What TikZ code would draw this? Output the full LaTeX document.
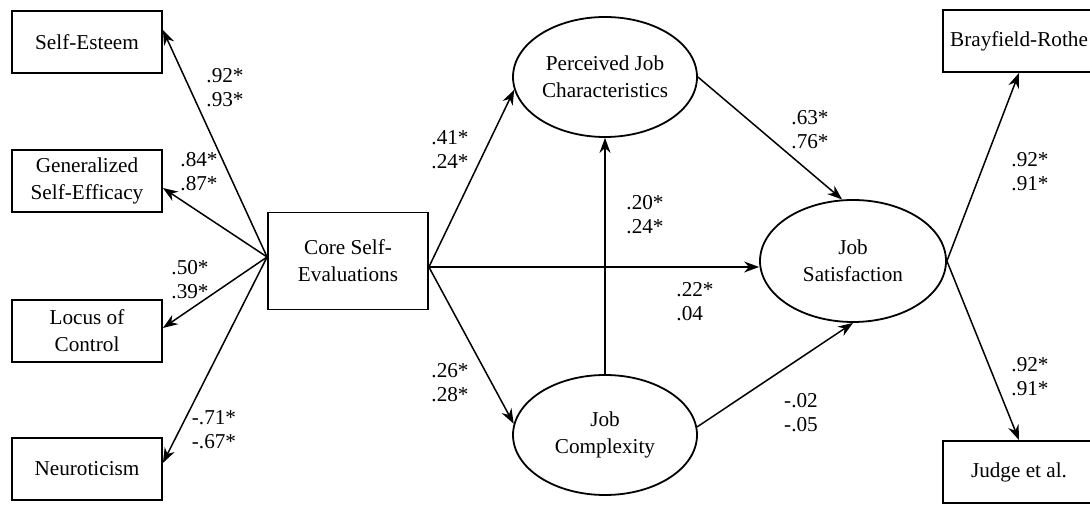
\documentclass[tikz,border=0pt]{standalone}
\usepackage{fontspec}
\setmainfont{Liberation Serif}
\usetikzlibrary{arrows.meta,shapes.geometric}
\tikzset{
  obs/.style={draw,line width=0.9pt,minimum width=75pt,minimum height=31pt,
    inner sep=0pt,align=center,font=\fontsize{10.6}{13.5}\selectfont},
  lat/.style={draw,ellipse,line width=0.9pt,minimum width=92pt,minimum height=60pt,
    inner sep=0pt,align=center,font=\fontsize{10.6}{13.5}\selectfont},
  path/.style={line width=0.75pt,-{Stealth[length=7.5pt,width=5.5pt]}},
  coef/.style={align=left,inner sep=0pt,font=\fontsize{10.6}{12}\selectfont}
}
\begin{document}
\begin{tikzpicture}[x=0.5pt,y=-0.5pt]
		\useasboundingbox (0,0) rectangle (1090,506);
		\clip (0,0) rectangle (1090,506);
		%%%%%%%%%%%%%%%%% vertices %%%%%%%%%%%%%%%%%%%
		% indicators of core self-evaluations, left column
		\foreach \name/\ypos/\txt in
		{se/42/Self-Esteem,gse/181/{Generalized\\Self-Efficacy},
			loc/331/{Locus of\\Control},neu/469/Neuroticism}
		{\node[obs] (\name) at (87,\ypos) {\txt};}
		
		\node[obs,minimum width=80pt,minimum height=48.5pt] (cse) at (348,261)
		{Core Self-\\Evaluations};
		
		\node[lat] (pjc) at (605,77) {Perceived Job\\Characteristics};
		\node[lat] (jc) at (605,435) {Job\\Complexity};
		\node[lat,minimum width=93pt,minimum height=61pt] (js) at (853,261)
		{Job\\Satisfaction};
		
		% indicators of job satisfaction, right column (cut by the page edge)
		\node[obs,minimum width=76pt] (bro) at (1019,41) {Brayfield-Rothe};
		\node[obs,minimum width=76pt] (jud) at (1019,472) {Judge et al.};
		
		%%%%%%%%%%%%%%%%% edges %%%%%%%%%%%%%%%%%%%%%%%
		\foreach \name/\dy in {se/6,gse/-3.5,loc/1.5,neu/3}
		{\draw[path] ([yshift=2pt]cse.west) -- ([yshift=\dy pt]\name.east);}
		
		\coordinate (cout) at ([yshift=-3pt]cse.east);
		\draw[path] (cout) -- (pjc.188);
		\draw[path] (cout) -- (jc.173);
		\draw[path] (cout) -- (cout -| js.west);
		\draw[path] (jc.north) -- (pjc.south);
		\draw[path] (pjc.east) -- (js.100);
		\draw[path] (jc.5) -- (js.south);
		
		\foreach \name in {bro.south,jud.north} {\draw[path] (js.east) -- (\name);}
		
		%%%%%%%%%%%%%%%%% coefficients %%%%%%%%%%%%%%%%
		% name/x/y/text  (two estimates per path)
		\foreach \name/\xpos/\ypos/\txt in
		{kse/225/88/{.92*\\.93*},kgse/199/172/{.84*\\.87*},
			kloc/190/280/{.50*\\.39*},kneu/214/430/{-.71*\\-.67*},
			kpjc/450/150/{.41*\\.24*},kjc/450/383/{.26*\\.28*},
			kup/645/215/{.20*\\.24*},kdir/695/302/{.22*\\.04},
			kpjs/810/130/{.63*\\.76*},kjcs/801/413/{-.02\\-.05},
			kbro/1030/172/{.92*\\.91*},kjud/1030/377/{.92*\\.91*}}
		{\node[coef] (\name) at (\xpos,\ypos) {\txt};}
	\end{tikzpicture}
\end{document}
